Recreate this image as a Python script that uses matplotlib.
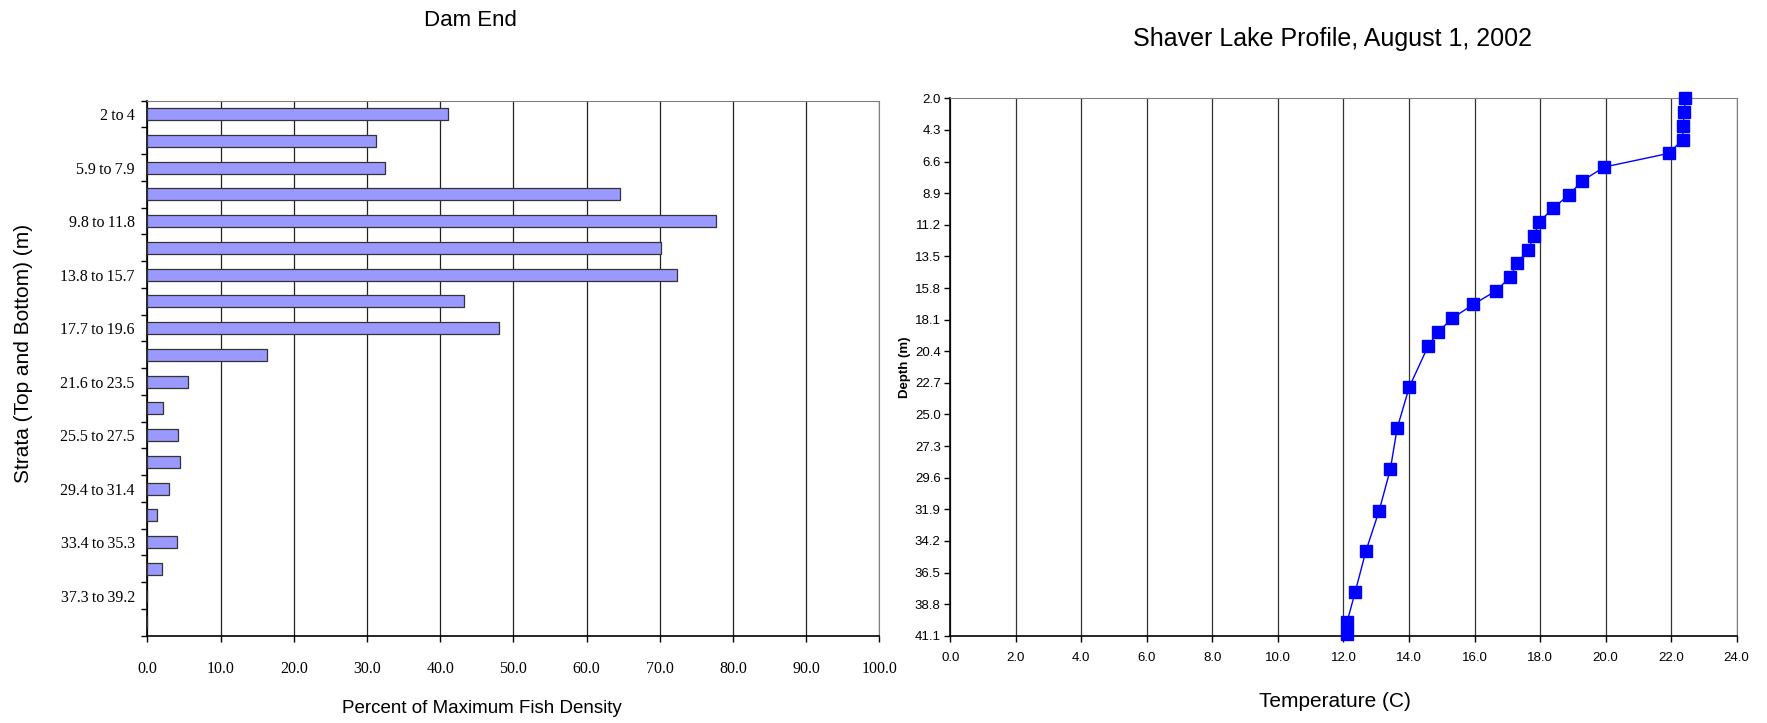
import numpy as np
import matplotlib
matplotlib.use("Agg")
import matplotlib.pyplot as plt

# Fish density by depth stratum (Dam End)
strata = ["2\u2009to\u20094", "3.9\u2009to\u20095.9", "5.9\u2009to\u20097.9", "7.9\u2009to\u20099.8",
          "9.8\u2009to\u200911.8", "11.8\u2009to\u200913.8", "13.8\u2009to\u200915.7", "15.7\u2009to\u200917.7",
          "17.7\u2009to\u200919.6", "19.6\u2009to\u200921.6", "21.6\u2009to\u200923.5", "23.5\u2009to\u200925.5",
          "25.5\u2009to\u200927.5", "27.5\u2009to\u200929.4", "29.4\u2009to\u200931.4", "31.4\u2009to\u200933.4",
          "33.4\u2009to\u200935.3", "35.3\u2009to\u200937.3", "37.3\u2009to\u200939.2", "39.2\u2009to\u200941.1"]
density_pct = [41.0, 31.2, 32.4, 64.5, 77.7, 70.1, 72.3, 43.2, 48.0, 16.4,
               5.6, 2.2, 4.2, 4.4, 3.0, 1.3, 4.0, 2.0, 0.0, 0.0]
pct_ticks = [0, 10, 20, 30, 40, 50, 60, 70, 80, 90, 100]

# Temperature profile, Shaver Lake, August 1, 2002
depth_m = [2.0, 3.0, 4.0, 5.0, 6.0, 7.0, 8.0, 9.0, 10.0, 11.0, 12.0, 13.0, 14.0, 15.0,
           16.0, 17.0, 18.0, 19.0, 20.0, 23.0, 26.0, 29.0, 32.0, 34.9, 37.9, 40.1, 41.0]
temp_c = [22.44, 22.40, 22.37, 22.35, 21.94, 19.96, 19.29, 18.89, 18.40, 17.97, 17.82, 17.64, 17.30, 17.09,
          16.66, 15.96, 15.32, 14.89, 14.59, 14.01, 13.64, 13.43, 13.09, 12.69, 12.36, 12.11, 12.11]
depth_ticks = [2.0, 4.3, 6.6, 8.9, 11.2, 13.5, 15.8, 18.1, 20.4, 22.7,
               25.0, 27.3, 29.6, 31.9, 34.2, 36.5, 38.8, 41.1]
temp_ticks = [0, 2, 4, 6, 8, 10, 12, 14, 16, 18, 20, 22, 24]

sans = "Liberation Sans"
serif = "Liberation Serif"

fig = plt.figure(figsize=(17.67, 7.23), dpi=100)

# ---- left: bar chart ----
ax1 = fig.add_axes([0.0834, 0.1207, 0.4143, 0.740])
pos = np.arange(len(strata))
ax1.barh(pos, density_pct, height=0.45, color="#9999FF", edgecolor="#333333", linewidth=0.9, zorder=3)
ax1.set_xlim(0, 100)
ax1.set_ylim(len(strata) - 0.5, -0.5)
ax1.set_xticks(pct_ticks)
ax1.set_xticklabels([f"{v:.1f}" for v in pct_ticks], family=serif, fontsize=11.5)
ax1.set_yticks(pos[::2])
ax1.set_yticklabels(strata[::2], family=serif, fontsize=11.5)
ax1.set_yticks(np.arange(-0.5, len(strata), 1), minor=True)
ax1.tick_params(axis="y", which="major", length=0, pad=9)
ax1.tick_params(axis="y", which="minor", length=4, width=1, direction="out")
ax1.tick_params(axis="x", length=4, width=1, direction="out", pad=14)
ax1.xaxis.grid(True, color="#222222", linewidth=0.9, zorder=0)
ax1.set_axisbelow(True)
for side in ("top", "right"):
    ax1.spines[side].set_color("#808080")
for side in ("left", "bottom"):
    ax1.spines[side].set_color("black")
    ax1.spines[side].set_linewidth(1.2)

fig.text(0.2663, 0.9714, "Dam End", ha="center", va="center", family=sans, fontsize=16)
fig.text(0.2725, 0.0195, "Percent of Maximum Fish Density", ha="center", va="center",
         family=sans, fontsize=13.5)
fig.text(0.0133, 0.5118, "Strata (Top and Bottom) (m)", ha="center", va="center",
         rotation=90, family=sans, fontsize=15)

# ---- right: temperature profile ----
ax2 = fig.add_axes([0.5378, 0.1207, 0.4450, 0.7433])
ax2.plot(temp_c, depth_m, color="#0000FF", linewidth=1, marker="s", markersize=9,
         markerfacecolor="#0000FF", markeredgecolor="#0000FF", clip_on=False, zorder=4)
ax2.set_xlim(0, 24)
ax2.set_ylim(41.1, 2.0)
ax2.set_xticks(temp_ticks)
ax2.set_xticklabels([f"{v:.1f}" for v in temp_ticks], family=sans, fontsize=9.5)
ax2.set_yticks(depth_ticks)
ax2.set_yticklabels([f"{v:.1f}" for v in depth_ticks], family=sans, fontsize=9.5)
ax2.tick_params(axis="y", length=4, width=1, direction="out", pad=3)
ax2.tick_params(axis="x", length=4, width=1, direction="out", pad=8)
ax2.xaxis.grid(True, color="#333333", linewidth=0.9, zorder=0)
ax2.set_axisbelow(True)
for side in ("top", "right"):
    ax2.spines[side].set_color("#808080")
for side in ("left", "bottom"):
    ax2.spines[side].set_color("black")
    ax2.spines[side].set_linewidth(1.2)

fig.text(0.7541, 0.9461, "Shaver Lake Profile, August 1, 2002", ha="center", va="center",
         family=sans, fontsize=18)
fig.text(0.7554, 0.0295, "Temperature (C)", ha="center", va="center", family=sans, fontsize=15)
fig.text(0.5122, 0.4924, "Depth (m)", ha="center", va="center", rotation=90,
         family=sans, fontsize=9.5, fontweight="bold")

fig.savefig("out.png", dpi=100)
